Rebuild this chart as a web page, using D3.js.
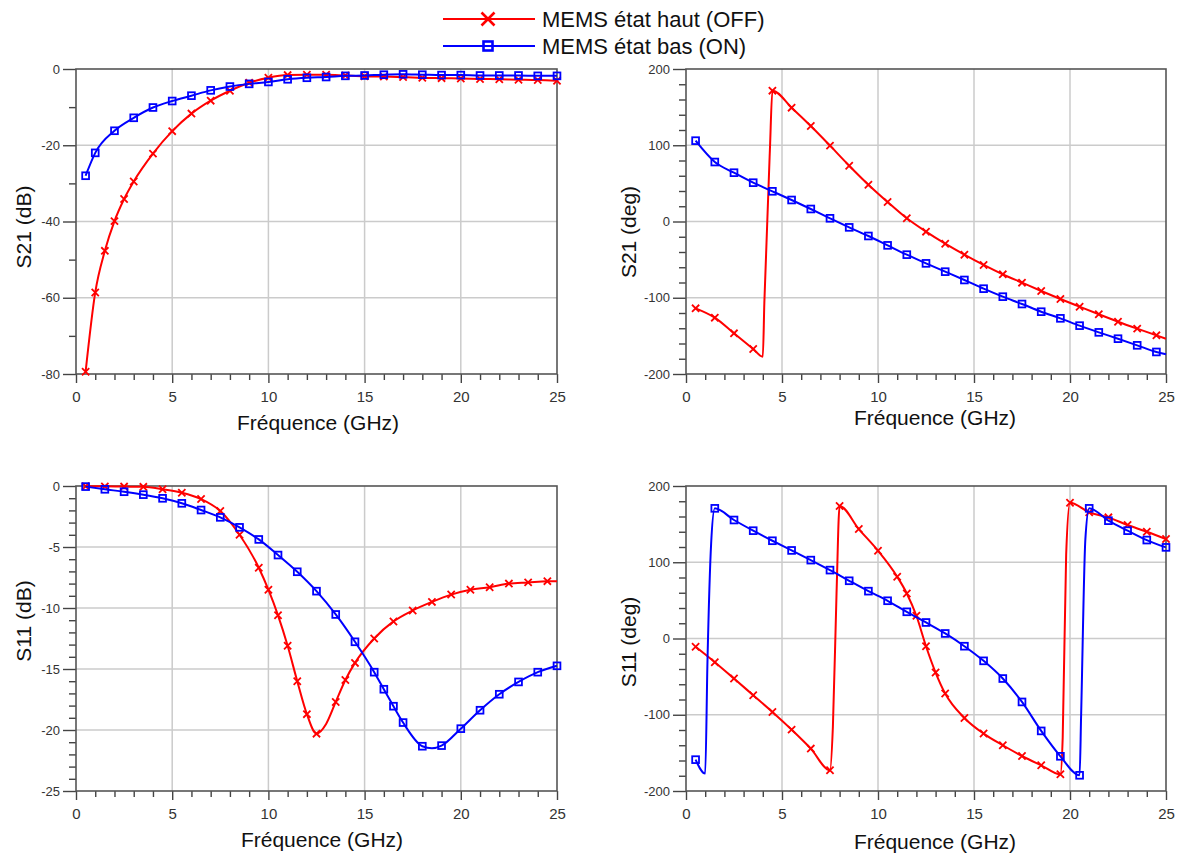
<!DOCTYPE html>
<html><head><meta charset="utf-8">
<script src="https://cdn.jsdelivr.net/npm/d3@7"></script>
<style>
body{margin:0;background:#fff;}
svg{display:block;font-family:"Liberation Sans",Arial,sans-serif;}
</style></head><body>
<svg id="chart" width="1180" height="857"></svg>
<script>
// ---------- shared ticks ----------
const xMajorTicks = [0, 5, 10, 15, 20, 25];
const xMinorTicks = [1,2,3,4,6,7,8,9,11,12,13,14,16,17,18,19,21,22,23,24];
const xTitle = "Fréquence (GHz)";
const legendLabels = ["MEMS état haut (OFF)", "MEMS état bas (ON)"];

// ---------- panel 1 : S21 (dB) ----------
const s21dbMajor = [0, -20, -40, -60, -80];
const s21dbMinor = [-10, -30, -50, -70];
const s21dbOffF = [0.5,1,1.5,2,2.5,3,4,5,6,7,8,9,10,11,12,13,14,15,16,17,18,19,20,21,22,23,24,25];
const s21dbOffV = [-79.4,-58.6,-47.7,-39.9,-34.1,-29.5,-22.2,-16.3,-11.7,-8.3,-5.7,-3.6,-2.3,-1.6,-1.5,-1.5,-1.7,-1.9,-2.0,-2.1,-2.3,-2.4,-2.5,-2.6,-2.7,-2.8,-2.9,-3.1];
const s21dbOffNoMark = [];
const s21dbOnF = [0.5,1,2,3,4,5,6,7,8,9,10,11,12,13,14,15,16,17,18,19,20,21,22,23,24,25];
const s21dbOnV = [-28.0,-22.0,-16.2,-12.8,-10.1,-8.4,-7.0,-5.6,-4.6,-3.9,-3.4,-2.7,-2.3,-2.1,-1.8,-1.7,-1.5,-1.4,-1.5,-1.6,-1.6,-1.7,-1.7,-1.7,-1.8,-1.8];
const s21dbOnNoMark = [];

// ---------- panel 2 : S21 (deg) ----------
const degMajor = [200, 100, 0, -100, -200];
const degMinor = [180,160,140,120,80,60,40,20,-20,-40,-60,-80,-120,-140,-160,-180];
const s21degOffF = [0.5,1.5,2.5,3.5,4.0,4.08,4.37,4.5,5.5,6.5,7.5,8.5,9.5,10.5,11.5,12.5,13.5,14.5,15.5,16.5,17.5,18.5,19.5,20.5,21.5,22.5,23.5,24.5,25];
const s21degOffV = [-113.9,-126.1,-146.7,-167.2,-177.3,-107,94,171.6,149.3,125.2,99.5,73.2,48.3,25.6,4.2,-13.3,-29.1,-43.5,-57.0,-69.3,-80.2,-91.1,-101.6,-111.7,-121.7,-131.4,-140.5,-149.3,-153.7];
const s21degOffNoMark = [4.0, 4.08, 4.37, 25];
const s21degOnF = [0.5,1.5,2.5,3.5,4.5,5.5,6.5,7.5,8.5,9.5,10.5,11.5,12.5,13.5,14.5,15.5,16.5,17.5,18.5,19.5,20.5,21.5,22.5,23.5,24.5,25];
const s21degOnV = [106.0,78.0,64.0,50.9,39.6,28.2,16.4,4.2,-7.7,-19.0,-31.3,-43.5,-54.9,-65.8,-76.7,-88.1,-98.6,-108.2,-118.3,-127.0,-136.6,-145.4,-153.7,-162.4,-171.1,-174.2];
const s21degOnNoMark = [25];

// ---------- panel 3 : S11 (dB) ----------
const s11dbMajor = [0, -5, -10, -15, -20, -25];
const s11dbMinor = [-1,-2,-3,-4,-6,-7,-8,-9,-11,-12,-13,-14,-16,-17,-18,-19,-21,-22,-23,-24];
const s11dbOffF = [0.5,1.5,2.5,3.5,4.5,5.5,6.5,7.5,8.5,9.5,10,10.5,11,11.5,12,12.5,13,13.5,14,14.5,15.5,16.5,17.5,18.5,19.5,20.5,21.5,22.5,23.5,24.5,25];
const s11dbOffV = [-0.02,-0.03,-0.05,-0.07,-0.27,-0.55,-1.07,-2.05,-4.0,-6.7,-8.5,-10.6,-13.1,-16.0,-18.7,-20.3,-19.5,-17.7,-15.9,-14.5,-12.5,-11.1,-10.2,-9.5,-8.9,-8.5,-8.3,-8.0,-7.9,-7.8,-7.8];
const s11dbOffNoMark = [13, 25];
const s11dbOnF = [0.5,1.5,2.5,3.5,4.5,5.5,6.5,7.5,8.5,9.5,10.5,11.5,12.5,13.5,14.5,15.5,16,16.5,17,18,18.5,19,20,21,22,23,24,25];
const s11dbOnV = [-0.05,-0.27,-0.47,-0.71,-1.01,-1.42,-1.97,-2.57,-3.39,-4.38,-5.66,-7.03,-8.62,-10.53,-12.77,-15.26,-16.66,-18.05,-19.39,-21.33,-21.5,-21.28,-19.89,-18.38,-17.07,-16.06,-15.26,-14.74];
const s11dbOnNoMark = [18.5];

// ---------- panel 4 : S11 (deg) ----------
const s11degOffF = [0.5,1.5,2.5,3.5,4.5,5.5,6.5,7.5,7.65,7.84,8,9,10,11,11.5,12,12.5,13,13.5,14.5,15.5,16.5,17.5,18.5,19.5,19.62,19.8,20,21,22,23,24,25];
const s11degOffV = [-10.9,-31.1,-52.5,-74.4,-96.3,-119.5,-144.4,-172.9,-116,59,173.7,143.5,115.1,81.0,59.1,29.8,-10.1,-44.6,-72.2,-104.2,-124.7,-140.0,-154.1,-166.3,-178.1,-130,110,178.1,165.4,158.9,148.8,140.0,130.4];
const s11degOffNoMark = [7.65, 7.84, 19.62, 19.8];
const s11degOnF = [0.5,1.0,1.12,1.31,1.5,2.5,3.5,4.5,5.5,6.5,7.5,8.5,9.5,10.5,11.5,12.5,13.5,14.5,15.5,16.5,17.5,18.5,19.5,20.5,20.58,20.8,21,22,23,24,25];
const s11degOnV = [-158.9,-177.2,-28,125,170.7,155.4,141.4,128.2,115.5,102.8,89.7,75.7,62.1,49.5,35.0,21.0,6.6,-10.1,-29.3,-52.5,-83.2,-121.2,-154.5,-179.4,-100,130,170.7,154.5,141.4,129.1,119.5];
const s11degOnNoMark = [1.0, 1.12, 1.31, 20.58, 20.8];

// ---------- styles ----------
const RED = "#ff0000", BLUE = "#0000ff";

const panels = [
  {box:[76,557,69,374], yDomain:[-80,0], major:s21dbMajor, minor:s21dbMinor, yTitle:"S21 (dB)", yT:[23.5,227], xT:[318,423],
   series:[{f:s21dbOffF,v:s21dbOffV,nm:s21dbOffNoMark,c:RED,m:"x"},{f:s21dbOnF,v:s21dbOnV,nm:s21dbOnNoMark,c:BLUE,m:"s"}]},
  {box:[686,1166,69,374], yDomain:[-200,200], major:degMajor, minor:degMinor, yTitle:"S21 (deg)", yT:[629,232], xT:[935,418],
   series:[{f:s21degOffF,v:s21degOffV,nm:s21degOffNoMark,c:RED,m:"x"},{f:s21degOnF,v:s21degOnV,nm:s21degOnNoMark,c:BLUE,m:"s"}]},
  {box:[76,557,486,791], yDomain:[-25,0], major:s11dbMajor, minor:s11dbMinor, yTitle:"S11 (dB)", yT:[23.5,621], xT:[322,840],
   series:[{f:s11dbOffF,v:s11dbOffV,nm:s11dbOffNoMark,c:RED,m:"x"},{f:s11dbOnF,v:s11dbOnV,nm:s11dbOnNoMark,c:BLUE,m:"s"}]},
  {box:[686,1166,486,791], yDomain:[-200,200], major:degMajor, minor:degMinor, yTitle:"S11 (deg)", yT:[629,642], xT:[935,842],
   series:[{f:s11degOffF,v:s11degOffV,nm:s11degOffNoMark,c:RED,m:"x"},{f:s11degOnF,v:s11degOnV,nm:s11degOnNoMark,c:BLUE,m:"s"}]}
];

const svg = d3.select("#chart");

function xMarker(g, size, c, w){
  g.append("path").attr("d",`M${-size},${-size}L${size},${size}M${-size},${size}L${size},${-size}`)
    .attr("stroke",c).attr("stroke-width",w).attr("fill","none");
}
function sMarker(g, size, c, w){
  g.append("rect").attr("x",-size).attr("y",-size).attr("width",2*size).attr("height",2*size)
    .attr("stroke",c).attr("stroke-width",w).attr("fill","none");
}

panels.forEach(p => {
  const [L,R,T,B] = p.box;
  const x = d3.scaleLinear().domain([0,25]).range([L,R]);
  const y = d3.scaleLinear().domain(p.yDomain).range([B,T]);
  const g = svg.append("g");

  // grid
  g.append("g").selectAll("line").data(xMajorTicks.slice(1,-1)).join("line")
    .attr("x1",d=>x(d)).attr("x2",d=>x(d)).attr("y1",T).attr("y2",B)
    .attr("stroke","#cbcbcb").attr("stroke-width",1.5);
  g.append("g").selectAll("line").data(p.major.filter(d=>d!==p.yDomain[0]&&d!==p.yDomain[1])).join("line")
    .attr("x1",L).attr("x2",R).attr("y1",d=>y(d)).attr("y2",d=>y(d))
    .attr("stroke","#cbcbcb").attr("stroke-width",1.5);

  // axes
  const axStyle = sel => {
    sel.select(".domain").remove();
    sel.selectAll(".tick line").attr("stroke","#444").attr("stroke-width",1.4);
  };
  g.append("g").attr("transform",`translate(0,${B})`)
    .call(d3.axisBottom(x).tickValues(xMinorTicks).tickSize(6).tickFormat(""))
    .call(axStyle);
  g.append("g").attr("transform",`translate(0,${B})`)
    .call(d3.axisBottom(x).tickValues(xMajorTicks).tickSize(9).tickPadding(8).tickFormat(d=>String(d)))
    .call(axStyle)
    .call(s=>s.selectAll("text").attr("font-size",15).attr("fill","#333").attr("font-family","Liberation Sans, Arial, sans-serif"));
  g.append("g").attr("transform",`translate(${L},0)`)
    .call(d3.axisLeft(y).tickValues(p.minor).tickSize(7).tickFormat(""))
    .call(axStyle);
  g.append("g").attr("transform",`translate(${L},0)`)
    .call(d3.axisLeft(y).tickValues(p.major).tickSize(13).tickPadding(3).tickFormat(d=>String(d)))
    .call(axStyle)
    .call(s=>s.selectAll("text").attr("font-size",13).attr("fill","#333").attr("font-family","Liberation Sans, Arial, sans-serif"));

  // frame
  g.append("rect").attr("x",L).attr("y",T).attr("width",R-L).attr("height",B-T)
    .attr("fill","none").attr("stroke","#555").attr("stroke-width",1.6);

  // series
  p.series.forEach(s => {
    const pts = s.f.map((f,i)=>({f, v:s.v[i], mark: !s.nm.includes(f)}));
    const line = d3.line().x(d=>x(d.f)).y(d=>y(d.v)).curve(d3.curveMonotoneX);
    g.append("path").datum(pts).attr("d",line).attr("fill","none")
      .attr("stroke",s.c).attr("stroke-width",2).attr("stroke-linejoin","round");
    const mg = g.append("g");
    pts.filter(d=>d.mark).forEach(d=>{
      const m = mg.append("g").attr("transform",`translate(${x(d.f)},${y(d.v)})`);
      if (s.m==="x") xMarker(m,3.6,s.c,1.8); else sMarker(m,3.4,s.c,1.8);
    });
  });

  // titles
  g.append("text").attr("x",p.xT[0]).attr("y",p.xT[1]).attr("dy","0.35em")
    .attr("text-anchor","middle").attr("font-size",21).attr("fill","#111").text(xTitle);
  g.append("text").attr("transform",`translate(${p.yT[0]},${p.yT[1]}) rotate(-90)`).attr("dy","0.35em")
    .attr("text-anchor","middle").attr("font-size",21).attr("fill","#111").text(p.yTitle);
});

// legend
const leg = svg.append("g");
[{c:RED,m:"x",y:19},{c:BLUE,m:"s",y:46}].forEach((l,i)=>{
  leg.append("line").attr("x1",443).attr("x2",535).attr("y1",l.y).attr("y2",l.y)
    .attr("stroke",l.c).attr("stroke-width",2.2);
  const m = leg.append("g").attr("transform",`translate(488,${l.y})`);
  if (l.m==="x") xMarker(m,6.5,l.c,2.6); else sMarker(m,4.5,l.c,2.6);
  leg.append("text").attr("x",542).attr("y",l.y).attr("dy","0.35em")
    .attr("font-size",22).attr("fill","#111").text(legendLabels[i]);
});
</script>
</body></html>
